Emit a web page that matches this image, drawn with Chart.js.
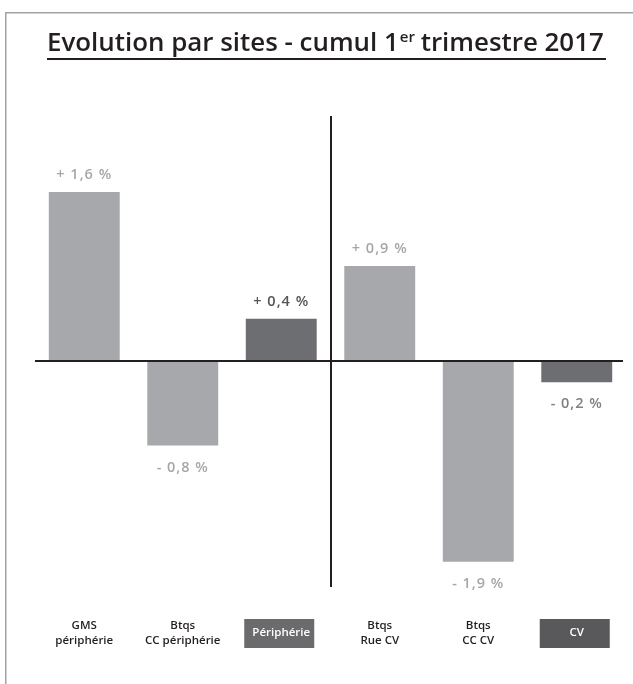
<!DOCTYPE html>
<html><head><meta charset="utf-8">
<script src="https://cdn.jsdelivr.net/npm/chart.js@4.4.1/dist/chart.umd.min.js"></script>
<style>html,body{margin:0;padding:0;background:#fff;}#wrap{width:633px;height:684px;position:relative;}canvas{display:block;}</style>
</head><body><div id="wrap"><canvas id="c" width="633" height="684"></canvas></div>
<script>
// ---- data ----
const categories = [["GMS", "périphérie"], ["Btqs", "CC périphérie"], "Périphérie", ["Btqs", "Rue CV"], ["Btqs", "CC CV"], "CV"];
const values = [1.6, -0.8, 0.4, 0.9, -1.9, -0.2];
const valueLabels = ["+ 1,6 %", "- 0,8 %", "+ 0,4 %", "+ 0,9 %", "- 1,9 %", "- 0,2 %"];
const titleMain = "Evolution par sites - cumul 1";
const titleSup = "er";
const titleEnd = " trimestre 2017";

// ---- styles ----
const barColors = ['#a7a8ac', '#a7a8ac', '#6d6e72', '#a7a8ac', '#a7a8ac', '#6d6e72'];
const labelColors = ['#a6a7aa', '#a6a7aa', '#555558', '#a6a7aa', '#a6a7aa', '#808084'];
const boxed = [false, false, true, false, false, true];
const boxColors = [null, null, '#6b6b6e', null, null, '#59585a'];
const FONT = '"Open Sans", "DejaVu Sans", sans-serif';

const deco = {
  id: 'deco',
  beforeDraw(chart) {
    const ctx = chart.ctx;
    ctx.save();
    ctx.fillStyle = '#fff';
    ctx.fillRect(0, 0, chart.width, chart.height);
    ctx.strokeStyle = '#a3a3a3';
    ctx.lineWidth = 1.5;
    ctx.beginPath();
    ctx.moveTo(5.75, chart.height);
    ctx.lineTo(5.75, 12.75);
    ctx.lineTo(chart.width, 12.75);
    ctx.stroke();
    const x = chart.scales.x;
    boxed.forEach((b, i) => {
      if (!b) return;
      const cx = x.getPixelForValue(i) - 2;
      ctx.fillStyle = boxColors[i];
      ctx.fillRect(cx - 35, 619, 70, 29);
    });
    ctx.restore();
  },
  afterDatasetsDraw(chart) {
    const ctx = chart.ctx;
    const a = chart.chartArea;
    const x = chart.scales.x, y = chart.scales.y;
    ctx.save();
    ctx.strokeStyle = '#231f20';
    ctx.lineWidth = 2;
    const y0 = Math.round(y.getPixelForValue(0));
    ctx.beginPath();
    ctx.moveTo(a.left, y0);
    ctx.lineTo(a.right - 3, y0);
    ctx.stroke();
    const xm = Math.round((x.getPixelForValue(2) + x.getPixelForValue(3)) / 2);
    ctx.beginPath();
    ctx.moveTo(xm, a.top);
    ctx.lineTo(xm, a.bottom);
    ctx.stroke();
    const meta = chart.getDatasetMeta(0);
    ctx.font = '600 14.5px ' + FONT;
    ctx.letterSpacing = '1px';
    ctx.textAlign = 'center';
    ctx.textBaseline = 'middle';
    meta.data.forEach((el, i) => {
      const v = values[i];
      ctx.fillStyle = labelColors[i];
      const ty = v >= 0 ? el.y - 17 : el.y + 22;
      ctx.fillText(valueLabels[i], el.x, ty);
    });
    ctx.restore();
  },
  afterDraw(chart) {
    const ctx = chart.ctx;
    ctx.save();
    const left = 47, right = 604, base = 51;
    const f = s => '600 ' + s + 'px ' + FONT;
    const measure = s => {
      ctx.font = f(s); let w = ctx.measureText(titleMain).width + ctx.measureText(titleEnd).width;
      ctx.font = f(s * 0.58); w += ctx.measureText(titleSup).width;
      return w;
    };
    let s = 26;
    s = s * (right - left) / measure(s);
    ctx.fillStyle = '#231f20';
    ctx.textBaseline = 'alphabetic';
    ctx.textAlign = 'left';
    let cx = left;
    ctx.font = f(s); ctx.fillText(titleMain, cx, base); cx += ctx.measureText(titleMain).width;
    ctx.font = f(s * 0.58); ctx.fillText(titleSup, cx + 1, base - s * 0.36); cx += ctx.measureText(titleSup).width;
    ctx.font = f(s); ctx.fillText(titleEnd, cx, base);
    ctx.strokeStyle = '#231f20';
    ctx.lineWidth = 2.2;
    ctx.beginPath();
    ctx.moveTo(left, 59);
    ctx.lineTo(606, 59);
    ctx.stroke();
    ctx.restore();
  }
};

new Chart(document.getElementById('c'), {
  type: 'bar',
  data: {
    labels: categories,
    datasets: [{
      data: values,
      backgroundColor: barColors,
      borderWidth: 0,
      barPercentage: 0.72,
      categoryPercentage: 1.0
    }]
  },
  options: {
    responsive: false,
    animation: false,
    devicePixelRatio: 1,
    layout: { padding: { left: 35, right: 7, top: 116, bottom: 0 } },
    plugins: { legend: { display: false }, tooltip: { enabled: false }, title: { display: false } },
    scales: {
      x: {
        grid: { display: false, drawTicks: false },
        border: { display: false },
        afterFit: s => { s.height = 97; },
        ticks: {
          font: { family: FONT, size: 11.5, weight: '600', lineHeight: 1.25 },
          color: c => boxed[c.index] ? '#ffffff' : '#231f20',
          padding: 39,
          crossAlign: 'center',
          maxRotation: 0,
          autoSkip: false
        }
      },
      y: { display: false, min: -2.14, max: 2.32 }
    }
  },
  plugins: [deco]
});
</script>
</body></html>
